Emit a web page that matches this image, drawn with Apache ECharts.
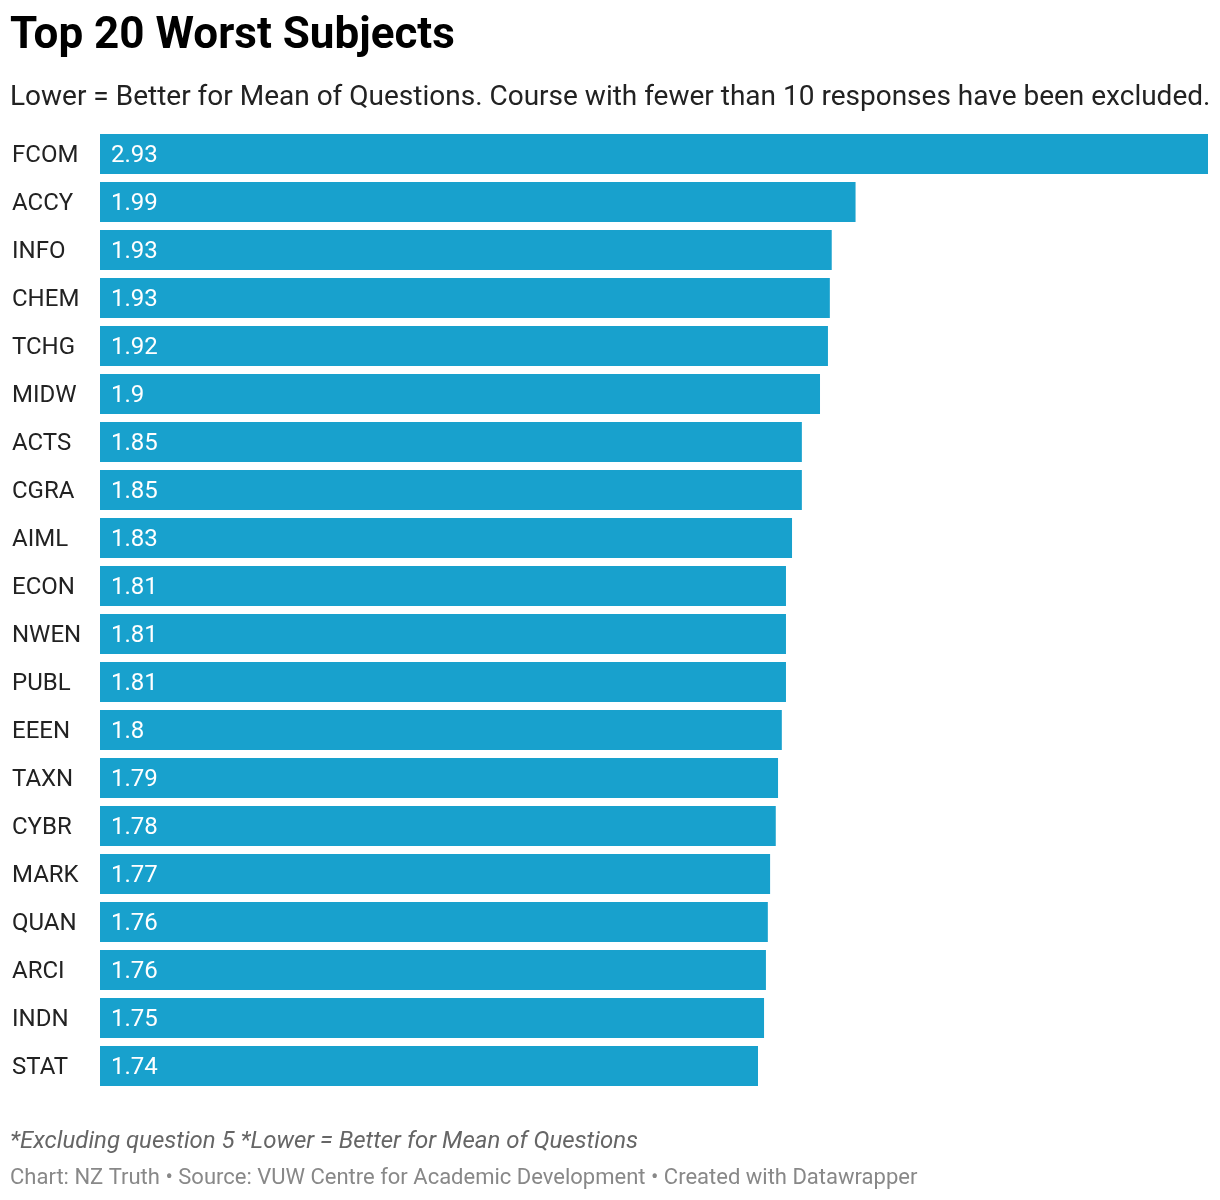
<!DOCTYPE html>
<html>
<head>
<meta charset="utf-8">
<script src="https://cdn.jsdelivr.net/npm/echarts@6/dist/echarts.min.js"></script>
<style>
html,body{margin:0;padding:0;background:#fff;}
#chart{width:1220px;height:1200px;}
</style>
</head>
<body>
<div id="chart"></div>
<script>
const categories = ["FCOM","ACCY","INFO","CHEM","TCHG","MIDW","ACTS","CGRA","AIML","ECON","NWEN","PUBL","EEEN","TAXN","CYBR","MARK","QUAN","ARCI","INDN","STAT"];
const values = [2.93,1.998,1.935,1.93,1.925,1.904,1.856,1.856,1.83,1.814,1.814,1.814,1.803,1.793,1.787,1.772,1.766,1.761,1.756,1.74];
const titleText = "Top 20 Worst Subjects";
const subtitleText = "Lower = Better for Mean of Questions. Course with fewer than 10 responses have been excluded.";
const noteText = "*Excluding question 5 *Lower = Better for Mean of Questions";
const sourceText = "Chart: NZ Truth \u2022 Source: VUW Centre for Academic Development \u2022 Created with Datawrapper";

function fmt(v){
  const t = Math.floor(v*100 + 1e-6)/100;
  return String(Number(t.toFixed(2)));
}

const chart = echarts.init(document.getElementById('chart'), null, {renderer:'canvas'});
const FONT = 'Roboto, "Noto Sans", sans-serif';
chart.setOption({
  animation:false,
  backgroundColor:'#ffffff',
  textStyle:{fontFamily:FONT},
  grid:{left:100, right:12, top:130, height:960, containLabel:false},
  xAxis:{type:'value', min:0, max:values[0], show:false},
  yAxis:{
    type:'category', data:categories, inverse:true,
    axisLine:{show:false}, axisTick:{show:false}, splitLine:{show:false},
    axisLabel:{align:'left', margin:88, color:'#222222', fontSize:24, fontFamily:FONT,
      verticalAlign:'top', lineHeight:4}
  },
  series:[{
    type:'bar', data:values, barWidth:40,
    itemStyle:{color:'#18a1cd'},
    label:{show:true, position:'insideLeft', distance:11, offset:[0,2], color:'#ffffff', fontSize:24, fontFamily:FONT,
      formatter:p=>fmt(p.value)}
  }],
  graphic:[
    {type:'text', left:10, top:15, style:{text:titleText, font:'bold 44px '+FONT, fill:'#000000'}},
    {type:'text', left:10, top:84, style:{text:subtitleText, font:'28px '+FONT, fill:'#222222'}},
    {type:'text', left:10, top:1130, style:{text:noteText, font:'italic 24px '+FONT, fill:'#666666'}},
    {type:'text', left:10, top:1167, style:{text:sourceText, font:'22px '+FONT, fill:'#888888'}}
  ]
});
</script>
</body>
</html>
